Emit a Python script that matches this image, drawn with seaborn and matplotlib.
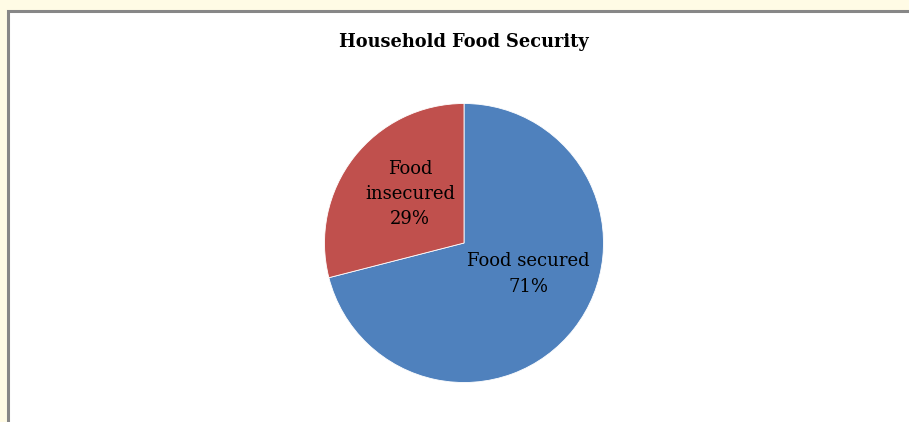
import matplotlib
matplotlib.use("Agg")
import matplotlib.pyplot as plt
import seaborn as sns
from matplotlib.patches import Rectangle

categories = ["Food secured", "Food insecured"]
values = [71, 29]
label_texts = ["Food secured\n71%", "Food\ninsecured\n29%"]
title = "Household Food Security"

sns.set_theme(style="white")
plt.rcParams["font.family"] = ["DejaVu Serif", "DejaVu Sans"]

colors = ["#4F81BD", "#C0504D"]

fig = plt.figure(figsize=(9.09, 4.22), dpi=100, facecolor="#FFFBE5")
W, H = 909, 422
# white chart area with gray frame
fig.patches.append(Rectangle((8 / W, -0.05), 1.1, 1.05 - 11 / H, transform=fig.transFigure,
                             facecolor="white", edgecolor="#878787", linewidth=2.2,
                             zorder=-5))

r = 139.5
cx, cy = 464, 422 - 243
ax = fig.add_axes([(cx - r) / W, (cy - r) / H, 2 * r / W, 2 * r / H])
ax.set_zorder(2)
ax.patch.set_alpha(0)
wedges, _ = ax.pie(values, colors=colors, startangle=90, counterclock=False,
                   wedgeprops=dict(linewidth=0.6, edgecolor="white"), radius=1.0)
ax.set_xlim(-1, 1)
ax.set_ylim(-1, 1)
ax.set_aspect("equal")
ax.axis("off")

ax.text(64 / r, -31 / r, label_texts[0], ha="center", va="center",
        fontsize=13, color="black", linespacing=1.5)
ax.text(-54 / r, 49 / r, label_texts[1], ha="center", va="center",
        fontsize=13, color="black", linespacing=1.5)

fig.text(464 / W, 1 - 42 / H, title, ha="center", va="center",
         fontsize=12.8, fontweight="bold", color="black", zorder=3)

fig.savefig("out.png", dpi=100, facecolor=fig.get_facecolor())
